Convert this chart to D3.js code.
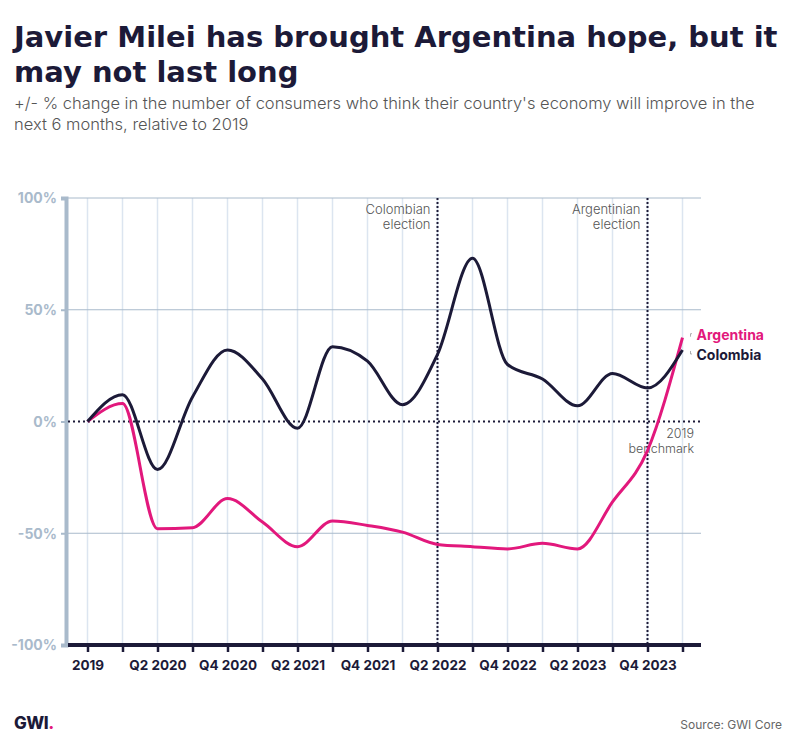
<!DOCTYPE html>
<html><head><meta charset="utf-8">
<script src="https://cdn.jsdelivr.net/npm/d3@7"></script>
<style>
body{margin:0;background:#fff;}
svg{display:block;}
</style></head>
<body>
<svg id="chart" width="796" height="748"></svg>
<script>
const periods = ["2019","Q1 2020","Q2 2020","Q3 2020","Q4 2020","Q1 2021","Q2 2021","Q3 2021","Q4 2021","Q1 2022","Q2 2022","Q3 2022","Q4 2022","Q1 2023","Q2 2023","Q3 2023","Q4 2023","Q1 2024"];
const argentina = [0, 8, -48, -47.5, -34.5, -45, -56, -44.5, -46.5, -49.5, -55, -56, -57, -54.5, -57, -36, -13, 37.5];
const colombia = [0, 12, -21.5, 11, 32, 19, -3, 33.5, 27, 7.5, 30, 73, 25.5, 19, 7, 21.5, 15, 32];
const yTicks = [100, 50, 0, -50, -100];
const labelledPeriods = ["2019","Q2 2020","Q4 2020","Q2 2021","Q4 2021","Q2 2022","Q4 2022","Q2 2023","Q4 2023"];
const events = [{period:"Q2 2022", lines:["Colombian","election"]},{period:"Q4 2023", lines:["Argentinian","election"]}];

const navy = "#1c1a38", pink = "#e2187c", grey = "#a9bacb";
const svg = d3.select("#chart");
const font = "Inter, 'DejaVu Sans', sans-serif";
const titleFont = "'DejaVu Sans', Inter, sans-serif";

// Title
svg.append("text").attr("x",14).attr("y",47).attr("font-family",titleFont).attr("font-weight",700)
  .attr("font-size",29).attr("fill",navy).text("Javier Milei has brought Argentina hope, but it");
svg.append("text").attr("x",14).attr("y",82).attr("font-family",titleFont).attr("font-weight",700)
  .attr("font-size",29).attr("fill",navy).text("may not last long");
svg.append("text").attr("x",14).attr("y",109).attr("font-family",font).attr("font-weight",300)
  .attr("font-size",16.5).attr("fill","#555").text("+/- % change in the number of consumers who think their country's economy will improve in the");
svg.append("text").attr("x",14).attr("y",130).attr("font-family",font).attr("font-weight",300)
  .attr("font-size",16.5).attr("fill","#555").text("next 6 months, relative to 2019");

const x = d3.scalePoint().domain(periods).range([87.5, 682.5]);
const y = d3.scaleLinear().domain([-100, 100]).range([645, 198]);
const x0 = 68, x1 = 701;

// vertical grid
svg.append("g").selectAll("line").data(periods).join("line")
  .attr("x1",d=>x(d)).attr("x2",d=>x(d)).attr("y1",y(100)).attr("y2",y(-100))
  .attr("stroke","#dce5f0").attr("stroke-width",1.5);
// horizontal grid
svg.append("g").selectAll("line").data(yTicks.filter(d=>d!==0 && d!==-100)).join("line")
  .attr("x1",x0).attr("x2",x1).attr("y1",d=>y(d)).attr("y2",d=>y(d))
  .attr("stroke",grey).attr("stroke-width",1);

// Y axis
const yAxis = d3.axisLeft(y).tickValues(yTicks).tickSize(5).tickPadding(4).tickFormat(d=>d+"%");
const gy = svg.append("g").attr("transform",`translate(${x0-2},0)`).call(yAxis);
gy.select(".domain").attr("stroke",grey).attr("stroke-width",4);
gy.selectAll(".tick line").attr("stroke",grey).attr("stroke-width",2);
gy.selectAll(".tick text").attr("fill",grey).attr("font-family",font).attr("font-weight",700).attr("font-size",14).attr("dy","0.35em");

// X axis
const xAxis = d3.axisBottom(x).tickSize(7).tickPadding(4).tickFormat(d=>labelledPeriods.includes(d)?d:"");
const gx = svg.append("g").attr("transform",`translate(0,${y(-100)})`).call(xAxis);
gx.select(".domain").attr("d",`M${x0},0H${x1}`).attr("stroke",navy).attr("stroke-width",4);
gx.selectAll(".tick line").attr("stroke",navy).attr("stroke-width",2.5);
gx.selectAll(".tick text").attr("fill",navy).attr("font-family",font).attr("font-weight",700).attr("font-size",13.5).attr("dy","1em");

// zero line
svg.append("line").attr("x1",x0).attr("x2",x1).attr("y1",y(0)).attr("y2",y(0))
  .attr("stroke",navy).attr("stroke-width",2).attr("stroke-dasharray","2,3");
svg.append("text").attr("x",694).attr("y",y(0)+16).attr("text-anchor","end").attr("font-family",font)
  .attr("font-weight",300).attr("font-size",12.5).attr("fill","#555").text("2019");
svg.append("text").attr("x",694).attr("y",y(0)+31).attr("text-anchor","end").attr("font-family",font)
  .attr("font-weight",300).attr("font-size",12.5).attr("fill","#555").text("benchmark");

// event lines
events.forEach(ev=>{
  const ex = x(ev.period);
  svg.append("line").attr("x1",ex).attr("x2",ex).attr("y1",y(100)).attr("y2",y(-100))
    .attr("stroke",navy).attr("stroke-width",2).attr("stroke-dasharray","2,2");
  ev.lines.forEach((t,i)=>svg.append("text").attr("x",ex-7).attr("y",y(100)+16+i*15)
    .attr("text-anchor","end").attr("font-family",font).attr("font-weight",300).attr("font-size",13)
    .attr("fill","#555").text(t));
});

// lines
const line = d3.line().x((d,i)=>x(periods[i])).y(d=>y(d)).curve(d3.curveMonotoneX);
svg.append("path").datum(argentina).attr("d",line).attr("fill","none").attr("stroke",pink).attr("stroke-width",3);
svg.append("path").datum(colombia).attr("d",line).attr("fill","none").attr("stroke",navy).attr("stroke-width",3);

// end labels
const last = periods[periods.length-1];
const lx = x(last)+14;
svg.append("text").attr("x",lx).attr("y",y(argentina[argentina.length-1])+2).attr("font-family",font)
  .attr("font-weight",700).attr("font-size",14).attr("fill",pink).text("Argentina");
svg.append("text").attr("x",lx).attr("y",y(colombia[colombia.length-1])+10).attr("font-family",font)
  .attr("font-weight",700).attr("font-size",14).attr("fill",navy).text("Colombia");
svg.append("path").attr("d",`M${lx-6},${y(argentina[argentina.length-1])-1}v-3h1.5`).attr("stroke","#999").attr("fill","none").attr("stroke-width",0.8);
svg.append("path").attr("d",`M${lx-6},${y(colombia[colombia.length-1])+1}v3h1.5`).attr("stroke","#999").attr("fill","none").attr("stroke-width",0.8);

// footer
const logo = svg.append("text").attr("x",14).attr("y",729).attr("font-family",font).attr("font-weight",800)
  .attr("font-size",17).attr("fill",navy).attr("letter-spacing",-0.5);
logo.append("tspan").text("GWI");
logo.append("tspan").attr("fill",pink).text(".");
svg.append("text").attr("x",782).attr("y",729).attr("text-anchor","end").attr("font-family",font)
  .attr("font-weight",400).attr("font-size",12).attr("fill","#666").text("Source: GWI Core");
</script>
</body></html>
